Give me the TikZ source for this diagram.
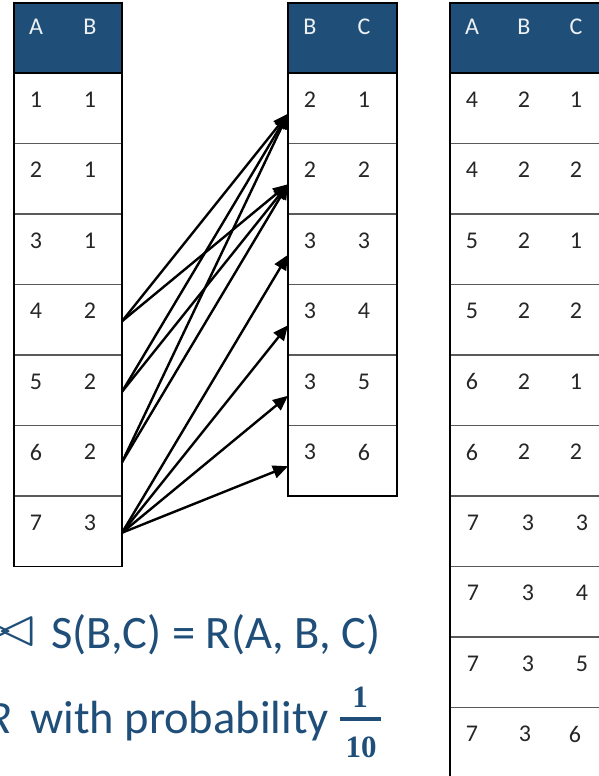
\documentclass[tikz,border=0pt]{standalone}
\usepackage{fontspec}
\setmainfont{Carlito}
\newfontfamily\numfont{Liberation Serif}
\usetikzlibrary{arrows.meta}
\definecolor{hdr}{HTML}{1F4E79}
\definecolor{sep}{HTML}{5A5A5A}
\tikzset{
  rowcell/.style={draw=sep, line width=1.6pt, minimum height=70.5pt, inner sep=0pt, outer sep=0pt, anchor=north west},
  hdrcell/.style={fill=hdr, draw=black, line width=1pt, minimum height=70pt, inner sep=0pt, outer sep=0pt, anchor=north west},
  val/.style={font=\fontsize{24}{28}\selectfont, text=black!85, inner sep=0pt},
  hval/.style={font=\fontsize{24}{28}\selectfont, text=white!92!hdr, inner sep=0pt},
  frame/.style={draw=black, line width=1.2pt},
  link/.style={line width=2.4pt, -{Triangle[length=15pt,width=13pt]}},
  caption/.style={font=\fontsize{46.5}{52}\selectfont, text=hdr, inner sep=0pt},
  fracnum/.style={font=\numfont\bfseries\fontsize{31}{34}\selectfont, text=hdr, inner sep=0pt}
}
\begin{document}
\begin{tikzpicture}[x=1pt,y=-1pt]
\useasboundingbox (0,0) rectangle (599,776);
% ---------- left table R(A,B)
\node[hdrcell, minimum width=108pt] (LH) at (14,3) {};
\foreach \i in {1,...,7}{
  \node[rowcell, minimum width=108pt] (L\i) at (14,{73+(\i-1)*70.5}) {};
}
\draw[frame] (LH.north west) rectangle (L7.south east);
\draw[frame] (LH.south west) -- (LH.south east);
\node[hval] (LhA) at (36,27) {A};
\node[hval] (LhB) at (90,27) {B};
\foreach \i/\a/\b in {1/1/1,2/2/1,3/3/1,4/4/2,5/5/2,6/6/2,7/7/3}{
  \node[val] (La\i) at (36,{99.5+(\i-1)*70.5}) {\a};
  \node[val] (Lb\i) at (90,{99.5+(\i-1)*70.5}) {\b};
}
% ---------- middle table S(B,C)
\node[hdrcell, minimum width=109pt] (MH) at (288,3) {};
\foreach \i in {1,...,6}{
  \node[rowcell, minimum width=109pt] (M\i) at (288,{73+(\i-1)*70.5}) {};
}
\draw[frame] (MH.north west) rectangle (M6.south east);
\draw[frame] (MH.south west) -- (MH.south east);
\node[hval] (MhB) at (310,27) {B};
\node[hval] (MhC) at (364,27) {C};
\foreach \i/\a/\b in {1/2/1,2/2/2,3/3/3,4/3/4,5/3/5,6/3/6}{
  \node[val] (Ma\i) at (310,{99.5+(\i-1)*70.5}) {\a};
  \node[val] (Mb\i) at (364,{99.5+(\i-1)*70.5}) {\b};
}
% ---------- right table R(A,B,C)
\node[hdrcell, minimum width=170pt] (RH) at (450,3) {};
\foreach \i in {1,...,10}{
  \node[rowcell, minimum width=170pt] (R\i) at (450,{73+(\i-1)*70.5}) {};
}
\draw[frame] (RH.north west) rectangle (R10.south east);
\draw[frame] (RH.south west) -- (RH.south east);
\node[hval] (RhA) at (472,27) {A};
\node[hval] (RhB) at (524,27) {B};
\node[hval] (RhC) at (576,27) {C};
\foreach \i/\a/\b/\c/\xa/\xb/\xc in {1/4/2/1/472/524/576,2/4/2/2/472/524/576,3/5/2/1/472/524/576,4/5/2/2/472/524/576,5/6/2/1/472/524/576,6/6/2/2/472/524/576,7/7/3/3/473/528/582,8/7/3/4/473/528/582,9/7/3/5/473/528/582,10/7/3/6/472/525/575}{
  \node[val] (Ra\i) at (\xa,{99.5+(\i-1)*70.5}) {\a};
  \node[val] (Rb\i) at (\xb,{99.5+(\i-1)*70.5}) {\b};
  \node[val] (Rc\i) at (\xc,{99.5+(\i-1)*70.5}) {\c};
}
% ---------- join arrows
\foreach \s/\t in {4/1,4/2,5/1,5/2,6/1,6/2,7/3,7/4,7/5,7/6}{
  \draw[link] ([yshift=-1.5pt]L\s.east) -- ([yshift=-5.5pt]M\t.west);
}
% ---------- captions
\node[caption, anchor=base east] (join) at (35,646.5) {\scalebox{2.9}[2.4]{$\bowtie$}};
\node[caption, anchor=base west] (eq) at (51,648) {S(B,C) = R(A, B, C)};
\node[caption, anchor=base east] (rr) at (12,733) {\textit{R}};
\node[caption, anchor=base west] (prob) at (30,733) {with probability};
\node[fracnum] (num) at (360,697) {1};
\draw[hdr, line width=4pt] (340,719) -- (381,719);
\node[fracnum] (den) at (361,747) {10};
\end{tikzpicture}
\end{document}
